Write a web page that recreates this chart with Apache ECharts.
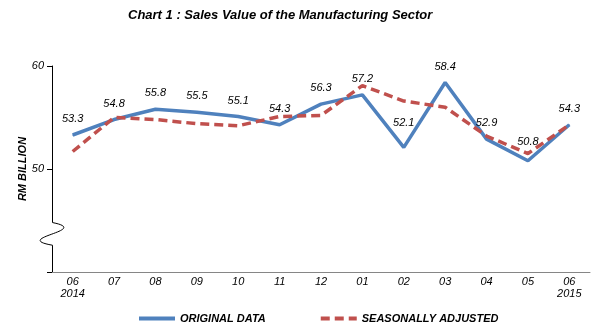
<!DOCTYPE html>
<html>
<head>
<meta charset="utf-8">
<script src="https://cdn.jsdelivr.net/npm/echarts@6/dist/echarts.min.js"></script>
<style>
  html, body { margin: 0; padding: 0; background: #fff; }
  #chart { width: 602px; height: 331px; }
</style>
</head>
<body>
<div id="chart"></div>
<script>
// Month labels (June 2014 - June 2015)
const months = ['06\n2014', '07', '08', '09', '10', '11', '12', '01', '02', '03', '04', '05', '06\n2015'];
// Sales value, RM billion
const originalData = [53.3, 54.8, 55.8, 55.5, 55.1, 54.3, 56.3, 57.2, 52.1, 58.4, 52.9, 50.8, 54.3];
const seasonallyAdjusted = [51.7, 55.0, 54.8, 54.4, 54.2, 55.1, 55.2, 58.1, 56.6, 56.0, 53.2, 51.5, 54.3];
// Value axis range and where the axis break is drawn
const yMin = 40, yMax = 60, yStep = 10;
const breakTop = 44.8, breakBottom = 42.6;

const FONT = '"Liberation Sans", Arial, sans-serif';
const chart = echarts.init(document.getElementById('chart'), null, { renderer: 'canvas' });

// extra label lift for a couple of points whose labels sit higher
const labelLift = { 8: 18, 11: 13 };

chart.setOption({
  animation: false,
  backgroundColor: '#ffffff',
  title: {
    text: 'Chart 1 : Sales Value of the Manufacturing Sector',
    left: 128, top: 9, padding: 0,
    textStyle: { fontFamily: FONT, fontSize: 13, fontWeight: 'bold', fontStyle: 'italic', color: '#000' }
  },
  legend: {
    left: 137, top: 313, padding: 0,
    itemWidth: 36, itemHeight: 14, itemGap: 53,
    itemStyle: { opacity: 0 },
    lineStyle: { width: 4 },
    textStyle: { fontFamily: FONT, fontSize: 11, fontWeight: 'bold', fontStyle: 'italic', color: '#000' },
    data: ['ORIGINAL DATA', 'SEASONALLY ADJUSTED']
  },
  grid: { left: 52, right: 12, top: 66, bottom: 59 },
  xAxis: {
    type: 'category',
    data: months,
    boundaryGap: true,
    axisLine: { lineStyle: { color: '#868686', width: 1 } },
    axisTick: { alignWithLabel: true, length: 4, lineStyle: { color: '#868686' } },
    axisLabel: {
      margin: 4, interval: 0,
      fontFamily: FONT, fontSize: 11, fontStyle: 'italic', color: '#000', lineHeight: 12
    }
  },
  yAxis: {
    type: 'value',
    min: yMin, max: yMax, interval: yStep,
    name: 'RM BILLION',
    nameLocation: 'middle',
    nameGap: 24,
    nameMoveOverlap: false,
    nameTextStyle: { fontFamily: FONT, fontSize: 11, fontWeight: 'bold', fontStyle: 'italic', color: '#000' },
    splitLine: { show: false },
    axisLine: { show: true, lineStyle: { color: '#000', width: 1 } },
    axisTick: { show: true, length: 5, lineStyle: { color: '#000' } },
    axisLabel: {
      margin: 8,
      fontFamily: FONT, fontSize: 11, fontStyle: 'italic', color: '#000',
      formatter: v => (v === yMin ? '' : String(v))
    }
  },
  series: [
    {
      name: 'ORIGINAL DATA',
      type: 'line',
      symbol: 'circle',
      symbolSize: 1,
      data: originalData.map((v, i) => labelLift[i]
        ? { value: v, label: { distance: labelLift[i] } }
        : v),
      lineStyle: { color: '#4F81BD', width: 3.5 },
      itemStyle: { color: '#4F81BD' },
      label: {
        show: true, position: 'top', distance: 10,
        fontFamily: FONT, fontSize: 11, fontStyle: 'italic', color: '#000',
        formatter: p => p.value.toFixed(1)
      },
      z: 2
    },
    {
      name: 'SEASONALLY ADJUSTED',
      type: 'line',
      symbol: 'none',
      data: seasonallyAdjusted,
      lineStyle: { color: '#C0504D', width: 3.5, type: [9, 5] },
      itemStyle: { color: '#C0504D' },
      z: 3
    }
  ]
});

// Axis break marker on the value axis
function drawBreak() {
  const step = chart.convertToPixel({ xAxisIndex: 0 }, 1) - chart.convertToPixel({ xAxisIndex: 0 }, 0);
  const axisX = chart.convertToPixel({ xAxisIndex: 0 }, 0) - step / 2;
  const yTop = chart.convertToPixel({ yAxisIndex: 0 }, breakTop);
  const yBot = chart.convertToPixel({ yAxisIndex: 0 }, breakBottom);
  const x = Math.round(axisX) + 0.5;
  const h = yBot - yTop;
  chart.setOption({
    graphic: [
      {
        type: 'rect', z: 100,
        shape: { x: x - 3, y: yTop, width: 6, height: h },
        style: { fill: '#ffffff' }
      },
      {
        type: 'bezierCurve', z: 101,
        shape: {
          x1: x, y1: yTop,
          cpx1: x + 40, cpy1: yTop + h * 0.35,
          cpx2: x - 42, cpy2: yTop + h * 0.68,
          x2: x, y2: yBot
        },
        style: { stroke: '#000', lineWidth: 1, fill: null }
      }
    ]
  });
}
drawBreak();
</script>
</body>
</html>
